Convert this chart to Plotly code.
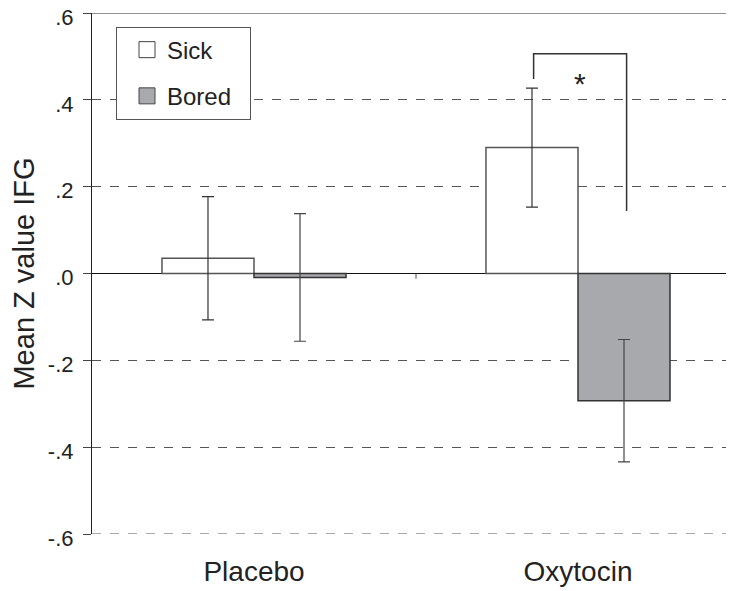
import plotly.graph_objects as go

categories = ["Placebo", "Oxytocin"]
cat_pos = [0, 1]
sick_values = [0.035, 0.290]
sick_errors = [0.142, 0.137]
bored_values = [-0.009, -0.293]
bored_errors = [0.147, 0.141]
y_tick_values = [-0.6, -0.4, -0.2, 0.0, 0.2, 0.4, 0.6]
y_tick_labels = ["-.6", "-.4", "-.2", ".0", ".2", ".4", ".6"]
bracket_x = [0.863, 0.863, 1.150, 1.150]
bracket_y = [0.448, 0.506, 0.506, 0.144]
star_pos = (1.006, 0.438)

FONT = "Arial, Liberation Sans, Helvetica, sans-serif"
SICK_FILL, SICK_LINE = "white", "#555555"
BORED_FILL, BORED_LINE = "#a8a9ac", "#333333"

fig = go.Figure()
fig.add_trace(go.Bar(
    name="Sick", x=cat_pos, y=sick_values, showlegend=False,
    marker=dict(color=SICK_FILL, line=dict(color=SICK_LINE, width=1.5)),
    error_y=dict(type="data", array=sick_errors, color="#333333", thickness=1.2, width=6),
))
fig.add_trace(go.Bar(
    name="Bored", x=cat_pos, y=bored_values, showlegend=False,
    marker=dict(color=BORED_FILL, line=dict(color=BORED_LINE, width=1.5)),
    error_y=dict(type="data", array=bored_errors, color="#444444", thickness=1.2, width=6),
))
# legend entries (larger square swatches)
fig.add_trace(go.Scatter(
    name="Sick", x=[None], y=[None], mode="markers", legendgroup="a",
    marker=dict(symbol="square", size=16, color=SICK_FILL, line=dict(color="#444444", width=1)),
))
fig.add_trace(go.Scatter(
    name="Bored\u00a0\u00a0", x=[None], y=[None], mode="markers", legendgroup="b",
    marker=dict(symbol="square", size=16, color=BORED_FILL, line=dict(color="#444444", width=1)),
))
fig.add_trace(go.Scatter(
    x=bracket_x, y=bracket_y, mode="lines",
    line=dict(color="#333333", width=1.5), showlegend=False, hoverinfo="skip",
))

fig.add_annotation(x=star_pos[0], y=star_pos[1], text="*", showarrow=False,
                   font=dict(family=FONT, size=30, color="#222222"),
                   xanchor="center", yanchor="middle")

# top border line, bottom dashed line and category separator tick
fig.add_shape(type="line", xref="paper", yref="y", x0=0, x1=1, y0=0.6, y1=0.6,
              line=dict(color="#222222", width=1.2))
fig.add_shape(type="line", xref="paper", yref="y", x0=0, x1=1, y0=-0.6, y1=-0.6,
              line=dict(color="#555555", width=1.2, dash="dash"))
fig.add_shape(type="line", xref="x", yref="y", x0=0.5, x1=0.5, y0=0.0, y1=-0.012,
              line=dict(color="#444444", width=1))

# the page body adds an 8px margin, so the figure is sized/offset to compensate
fig.update_layout(
    width=726, height=583,
    margin=dict(l=84, r=0, t=5, b=57),
    paper_bgcolor="white", plot_bgcolor="white",
    barmode="group", bargap=0.432, bargroupgap=0,
    font=dict(family=FONT, color="#222222"),
    showlegend=True,
    legend=dict(
        x=0.0374, y=0.974, xanchor="left", yanchor="top",
        bgcolor="white", bordercolor="#555555", borderwidth=1,
        font=dict(family=FONT, size=24, color="#222222"),
        traceorder="grouped", tracegroupgap=12,
        indentation=10,
    ),
    xaxis=dict(
        range=[-0.5, 1.4815], tickvals=cat_pos, ticktext=categories,
        showgrid=False, zeroline=False, showline=False, automargin=False,
        ticks="outside", ticklen=12, tickcolor="rgba(0,0,0,0)",
        tickfont=dict(family=FONT, size=28, color="#222222"),
    ),
    yaxis=dict(
        range=[-0.6, 0.6], tickvals=y_tick_values, ticktext=y_tick_labels,
        showgrid=True, gridcolor="#555555", griddash="dash", gridwidth=1,
        zeroline=True, zerolinecolor="#111111", zerolinewidth=1.2,
        showline=True, linecolor="#222222", linewidth=1.2, automargin=False,
        ticks="outside", ticklen=8, tickcolor="#444444",
        tickfont=dict(family=FONT, size=22, color="#222222"),
        ticklabelstandoff=5, ticklabeloverflow="allow", ticklabelshift=4,
        title=dict(text="Mean Z value IFG", font=dict(family=FONT, size=29, color="#222222"), standoff=10),
    ),
)

fig.write_html("out.html")
